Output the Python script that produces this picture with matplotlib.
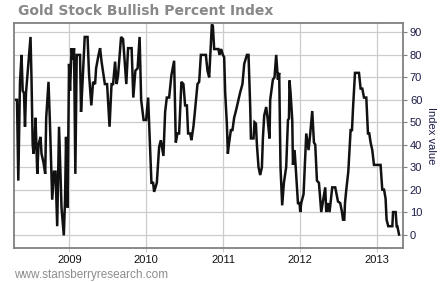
import matplotlib
matplotlib.use("Agg")
import matplotlib.pyplot as plt

# decimal year of each vertex of the traced index line
years = [
    2008.280, 2008.319, 2008.336, 2008.358, 2008.378, 2008.393, 2008.410, 2008.423,
    2008.436, 2008.466, 2008.495, 2008.508, 2008.523, 2008.534, 2008.547, 2008.560,
    2008.583, 2008.599, 2008.625, 2008.638, 2008.664, 2008.686, 2008.699, 2008.729,
    2008.749, 2008.777, 2008.801, 2008.820, 2008.842, 2008.866, 2008.898, 2008.928,
    2008.944, 2008.957, 2008.977, 2008.996, 2009.009, 2009.029, 2009.048, 2009.061,
    2009.078, 2009.096, 2009.139, 2009.152, 2009.172, 2009.200, 2009.237, 2009.256,
    2009.286, 2009.309, 2009.335, 2009.348, 2009.380, 2009.400, 2009.419, 2009.462,
    2009.491, 2009.523, 2009.549, 2009.569, 2009.595, 2009.615, 2009.634, 2009.673,
    2009.699, 2009.741, 2009.764, 2009.810, 2009.832, 2009.859, 2009.888, 2009.914,
    2009.934, 2009.966, 2009.999, 2010.025, 2010.068, 2010.090, 2010.103, 2010.138,
    2010.168, 2010.190, 2010.224, 2010.246, 2010.268, 2010.298, 2010.328, 2010.363,
    2010.385, 2010.406, 2010.428, 2010.458, 2010.484, 2010.506, 2010.529, 2010.545,
    2010.572, 2010.588, 2010.614, 2010.633, 2010.667, 2010.689, 2010.711, 2010.776,
    2010.797, 2010.819, 2010.854, 2010.867, 2010.884, 2010.940, 2010.953, 2010.975,
    2010.997, 2011.014, 2011.027, 2011.049, 2011.062, 2011.075, 2011.101, 2011.122,
    2011.144, 2011.170, 2011.200, 2011.223, 2011.252, 2011.275, 2011.310, 2011.331,
    2011.353, 2011.362, 2011.396, 2011.409, 2011.427, 2011.440, 2011.461, 2011.483,
    2011.505, 2011.518, 2011.535, 2011.561, 2011.578, 2011.604, 2011.613, 2011.648,
    2011.669, 2011.691, 2011.713, 2011.730, 2011.747, 2011.756, 2011.769, 2011.791,
    2011.821, 2011.844, 2011.857, 2011.864, 2011.877, 2011.900, 2011.909, 2011.930,
    2011.943, 2011.974, 2011.995, 2012.004, 2012.017, 2012.047, 2012.082, 2012.112,
    2012.134, 2012.160, 2012.182, 2012.199, 2012.221, 2012.247, 2012.277, 2012.329,
    2012.342, 2012.364, 2012.385, 2012.420, 2012.459, 2012.495, 2012.524, 2012.547,
    2012.560, 2012.577, 2012.586, 2012.603, 2012.629, 2012.659, 2012.677, 2012.690,
    2012.716, 2012.768, 2012.789, 2012.811, 2012.833, 2012.863, 2012.885, 2012.902,
    2012.919, 2012.941, 2012.963, 2013.049, 2013.071, 2013.094, 2013.114, 2013.127,
    2013.149, 2013.202, 2013.211, 2013.245, 2013.258, 2013.267, 2013.289,
]

index_value = [
    60, 60, 24, 68, 80, 64, 63, 48,
    63, 76, 88, 69, 40, 36, 40, 52,
    27, 40, 43.5, 36, 32, 27, 52, 68,
    48, 15.5, 28, 28, 3.7, 48, 12, -0.4,
    15.5, 43.5, 12, 76, 64, 83, 78, 83,
    27, 80, 80, 54.6, 68, 88, 88, 71.5,
    57.5, 68, 67, 74, 80, 83, 77, 67,
    67, 48, 67, 67, 77, 67, 71, 88,
    87, 67, 83, 83, 61, 73, 74, 88,
    60, 51, 51, 61, 23, 23, 19, 23,
    39, 42, 35, 54.6, 61, 61, 71, 77.4,
    41, 45, 45, 68, 67, 57.5, 57.5, 45,
    45, 42, 48, 54.6, 67, 68, 80, 80,
    73, 70, 93.6, 93, 82.6, 82.6, 80, 82.6,
    80, 79, 63.4, 49.4, 36, 40, 46.5, 46.5,
    52, 55.5, 60, 63.4, 67, 76, 80, 80,
    56.8, 42.8, 42.8, 50, 49.4, 40, 30, 26.5,
    30, 42.8, 53, 56.8, 52, 42.8, 60, 69,
    70, 80, 69, 72, 30, 23, 13, 23,
    30, 51, 51.6, 68.6, 63.4, 51, 31, 37.6,
    31, 14, 14, 10, 14, 18, 45, 37.6,
    45, 55, 41, 40, 24, 23, 10, 21,
    10, 14, 10, 21, 21, 14.7, 14, 10,
    6.6, 6.6, 14, 20, 28, 46.5, 46.5, 56,
    72, 72, 65, 65, 61, 61, 45, 45,
    41, 37.6, 31, 31, 20, 20, 16, 6.6,
    3.7, 3.7, 10, 10, 3.7, 3.7, 0,
]

year_ticks = [2009, 2010, 2011, 2012, 2013]
value_ticks = [0, 10, 20, 30, 40, 50, 60, 70, 80, 90]

plt.rcParams["font.family"] = ["Liberation Sans", "DejaVu Sans"]

fig = plt.figure(figsize=(4.43, 2.82), dpi=100)
ax = fig.add_axes([0.0316, 0.1206, 0.878, 0.7978])

ax.plot(years, index_value, color="#111111", lw=1.8, solid_joinstyle="miter")

ax.set_xlim(2008.28, 2013.34)
ax.set_ylim(-6, 94.2)
ax.set_xticks(year_ticks)
ax.set_xticklabels([str(y) for y in year_ticks])
ax.set_yticks(value_ticks)

ax.grid(True, color="#cccccc", lw=0.9)
ax.set_axisbelow(True)
for s in ax.spines.values():
    s.set_color("#808080")
    s.set_linewidth(1.3)

ax.yaxis.tick_right()
ax.yaxis.set_label_position("right")
ax.tick_params(axis="y", length=3, color="#808080", labelsize=8,
               labelcolor="#1c1c48", pad=2)
ax.tick_params(axis="x", length=3, color="#cccccc", labelsize=8,
               labelcolor="#111111", pad=2)
ax.set_ylabel("Index value", rotation=-90, labelpad=10, fontsize=8,
              color="#1c1c48")

fig.text(18 / 443, 1 - 15 / 282, "Gold Stock Bullish Percent Index",
         family="DejaVu Sans", weight="bold", fontsize=10, color="#888888",
         va="baseline")
fig.text(14 / 443, 1 - 281 / 282, "www.stansberryresearch.com",
         fontsize=8.5, color="#8c8c8c", va="bottom")

fig.savefig("out.png", dpi=100)
